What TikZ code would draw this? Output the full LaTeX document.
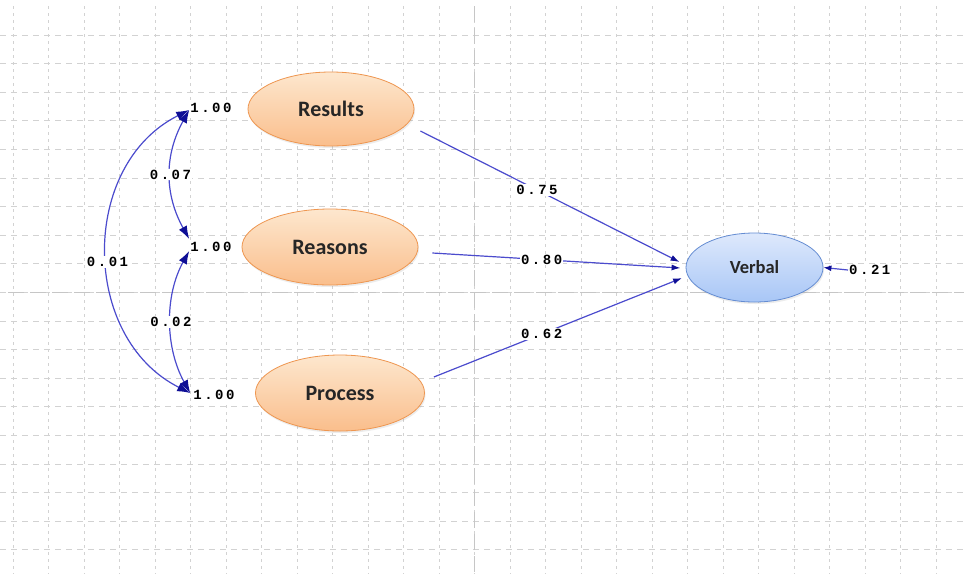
\documentclass[tikz,border=0pt]{standalone}
\usepackage{fontspec}
\setmainfont{Carlito}
\newfontfamily\numfont[LetterSpace=18]{Liberation Mono}
\usetikzlibrary{shapes.geometric,arrows.meta,shadows}

\definecolor{pathblue}{RGB}{75,75,205}
\definecolor{tipblue}{RGB}{15,15,150}
\definecolor{peachtop}{RGB}{253,231,206}
\definecolor{peachbot}{RGB}{250,190,140}
\definecolor{peachline}{RGB}{238,150,80}
\definecolor{skytop}{RGB}{222,233,252}
\definecolor{skybot}{RGB}{168,198,246}
\definecolor{skyline}{RGB}{100,140,210}

\tikzset{
    gridv/.style={draw=gray!35, line width=0.8pt, dash pattern=on 3pt off 4pt},
    gridh/.style={draw=gray!35, line width=0.8pt, dash pattern=on 6pt off 5pt},
    axisline/.style={draw=gray!45, line width=1pt, dash pattern=on 16pt off 6pt},
    latent/.style={ellipse, draw=peachline, line width=0.8pt,
        top color=peachtop, bottom color=peachbot,
        drop shadow={opacity=0.15, shadow xshift=1pt, shadow yshift=-2pt},
        text=black!85, font=\bfseries\fontsize{22}{22}\selectfont},
    outcome/.style={latent, draw=skyline, top color=skytop, bottom color=skybot,
        font=\bfseries\fontsize{18.5}{18.5}\selectfont},
    coef/.style={font=\numfont\bfseries\fontsize{14}{14}\selectfont, fill=white, inner sep=1pt},
    regpath/.style={draw=pathblue, line width=1.2pt, -{Latex[length=9pt,width=6pt,color=tipblue]}},
    covpath/.style={draw=pathblue, line width=1.2pt,
        {Latex[length=13pt,width=9pt,color=tipblue]}-{Latex[length=13pt,width=9pt,color=tipblue]}}
}

\begin{document}
\begin{tikzpicture}[x=1pt,y=-1pt]

    \fill[white] (0,0) rectangle (964,574);
    \useasboundingbox (0,0) rectangle (964,574);

    % background grid
    \foreach \k in {0,...,26}
        \draw[gridv] ({13.3+35.5*\k},6) -- ({13.3+35.5*\k},574);
    \foreach \k in {0,...,18}
        \draw[gridh] (0,{35+28.6*\k}) -- (964,{35+28.6*\k});
    \draw[axisline] (474.8,6) -- (474.8,574);
    \draw[axisline] (8,292.2) -- (964,292.2);

    % factors
    \node[latent, minimum width=166pt, minimum height=74pt] (results) at (331,109) {Results};
    \node[latent, minimum width=176pt, minimum height=76pt] (reasons) at (330,247) {Reasons};
    \node[latent, minimum width=169pt, minimum height=76pt] (process) at (340,393) {Process};
    \node[outcome, minimum width=137pt, minimum height=69pt] (verbal) at (754.5,267.5) {Verbal};

    % variances
    \node[coef] (vres) at (211,108) {1.00};
    \node[coef] (vrea) at (211,247) {1.00};
    \node[coef] (vpro) at (214,395) {1.00};
    \node[coef, anchor=west] (everbal) at (848,270) {0.21};

    % paths
    \draw[regpath] ([shift={(6,22)}]results.east) -- node[coef, pos=0.45] (b1) {0.75}
        ([shift={(-6,-5.5)}]verbal.west);
    \draw[regpath] ([shift={(14,6)}]reasons.east) -- node[coef, pos=0.44] (b2) {0.80}
        ([shift={(-5,0.5)}]verbal.west);
    \draw[regpath] ([shift={(9,-16)}]process.east) -- node[coef, pos=0.434] (b3) {0.62}
        ([shift={(-3.5,10.5)}]verbal.west);
    \draw[draw=pathblue, line width=1.2pt, -{Latex[length=8pt,width=6pt,color=tipblue]}]
        (everbal.west) -- (verbal.east);

    % covariances
    \draw[covpath] ([shift={(0,2)}]vres.west) .. controls +(-25,45) and +(-25,-45) ..
        node[coef, pos=0.5] (c1) {0.07} ([shift={(0,-8)}]vrea.west);
    \draw[covpath] ([shift={(0,4)}]vrea.west) .. controls +(-25,45) and +(-25,-45) ..
        node[coef, pos=0.5] (c2) {0.02} ([shift={(-2,-2)}]vpro.west);
    \draw[covpath] ([shift={(0,2)}]vres.west) .. controls +(-110,55) and +(-110,-55) ..
        node[coef, pos=0.53] (c3) {0.01} ([shift={(-2,-2)}]vpro.west);

\end{tikzpicture}
\end{document}
